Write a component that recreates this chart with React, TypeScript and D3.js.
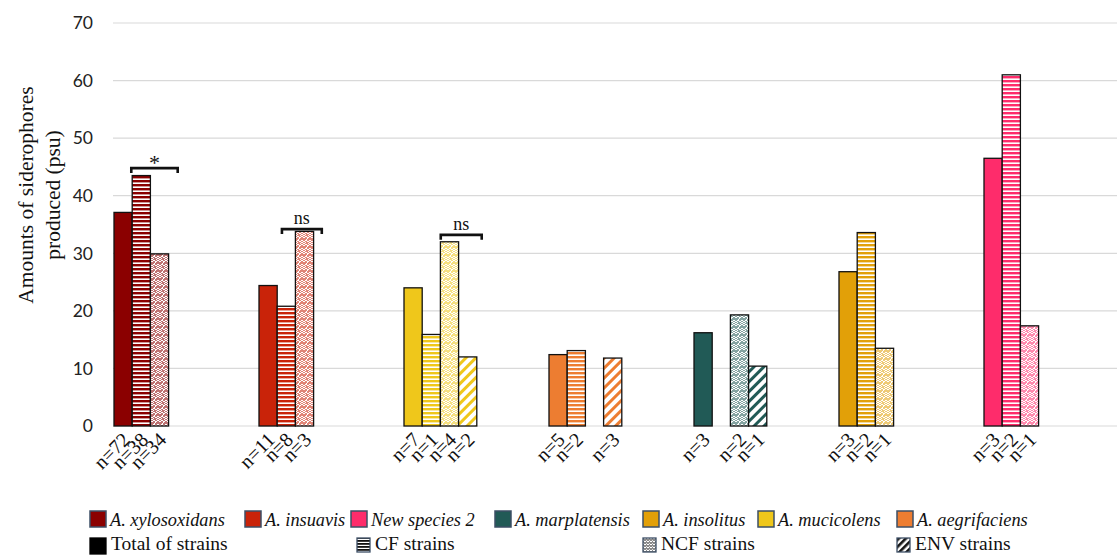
import React from "react";
import * as d3 from "d3";

const species = [
  "A. xylosoxidans",
  "A. insuavis",
  "A. mucicolens",
  "A. aegrifaciens",
  "A. marplatensis",
  "A. insolitus",
  "New species 2",
];
const speciesColors = ["#8b0000", "#c92309", "#efc71b", "#ed7d31", "#215a56", "#e2a008", "#fe2c6b"];
const series = ["Total of strains", "CF strains", "NCF strains", "ENV strains"];

// values per species, in series order (null = no bar)
const totalValues = [37.1, 24.4, 24.0, 12.4, 16.2, 26.8, 46.5];
const cfValues: (number | null)[] = [43.5, 20.8, 15.9, 13.1, null, 33.6, 61.0];
const ncfValues: (number | null)[] = [29.9, 33.8, 32.0, null, 19.3, 13.5, 17.4];
const envValues: (number | null)[] = [null, null, 12.0, 11.8, 10.4, null, null];

const totalN = ["n=72", "n=11", "n=7", "n=5", "n=3", "n=3", "n=3"];
const cfN = ["n=38", "n=8", "n=1", "n=2", "", "n=2", "n=2"];
const ncfN = ["n=34", "n=3", "n=4", "", "n=2", "n=1", "n=1"];
const envN = ["", "", "n=2", "n=3", "n=1", "", ""];

const yTicks = [0, 10, 20, 30, 40, 50, 60, 70];

// significance brackets: species index, from series slot, to series slot (fractional), level, label
const brackets = [
  { g: 0, from: 0.95, to: 3.5, y: 44.8, label: "*" },
  { g: 1, from: 1.26, to: 3.45, y: 34.2, label: "ns" },
  { g: 2, from: 2.02, to: 4.27, y: 33.2, label: "ns" },
];

const legendSpecies = [
  "A. xylosoxidans",
  "A. insuavis",
  "New species 2",
  "A. marplatensis",
  "A. insolitus",
  "A. mucicolens",
  "A. aegrifaciens",
];

const serif = "'Liberation Serif', 'Times New Roman', serif";

export default function App() {
  const W = 1117;
  const H = 555;
  const x0 = d3.scaleBand<string>().domain(species).range([113, 1128]).padding(0);
  const x1 = d3.scaleBand<string>().domain(series).range([1, 1 + 4 * 18.2]).padding(0);
  const y = d3.scaleLinear().domain([0, 70]).range([426, 23]);

  const allValues = [totalValues, cfValues, ncfValues, envValues];
  const allN = [totalN, cfN, ncfN, envN];

  const tint = (c: string, t: number) => d3.interpolateRgb(c, "#ffffff")(t);

  const fillFor = (si: number, gi: number) => {
    if (si === 0) return speciesColors[gi];
    return `url(#p-${si}-${gi})`;
  };

  const slotX = (gi: number, s: number) => (x0(species[gi]) as number) + 1 + s * x1.bandwidth();

  const legendRow1X = [90, 245, 351, 495, 643, 758, 897];
  const legendRow2X = [90, 357, 643, 897];

  return (
    <svg width={W} height={H} style={{ display: "block", position: "absolute", left: 0, top: 0 }}>
      <defs>
        {species.map((sp, gi) => {
          const c = speciesColors[gi];
          return (
            <React.Fragment key={sp}>
              <pattern id={`p-1-${gi}`} width={8} height={4} patternUnits="userSpaceOnUse">
                <rect width={8} height={4} fill="#ffffff" />
                <rect width={8} height={2.4} fill={c} />
              </pattern>
              <pattern id={`p-2-${gi}`} width={8} height={8} patternUnits="userSpaceOnUse">
                <rect width={8} height={8} fill={tint(c, 0.45)} />
                <path d="M0,2 L2,0 L4,2 L6,0 L8,2 M0,6 L2,4 L4,6 L6,4 L8,6 M2,8 L4,6 M0,4 L2,2 M4,4 L6,2 L8,4" stroke="#ffffff" strokeWidth={1} fill="none" />
              </pattern>
              <pattern id={`p-3-${gi}`} width={7} height={7} patternUnits="userSpaceOnUse" patternTransform="rotate(45)">
                <rect width={7} height={7} fill="#ffffff" />
                <rect width={3} height={7} fill={c} />
              </pattern>
            </React.Fragment>
          );
        })}
        <pattern id="lg-cf" width={8} height={3} patternUnits="userSpaceOnUse">
          <rect width={8} height={3} fill="#ffffff" />
          <rect width={8} height={1.8} fill="#111111" />
        </pattern>
        <pattern id="lg-ncf" width={6} height={6} patternUnits="userSpaceOnUse">
          <rect width={6} height={6} fill="#8a8a8a" />
          <path d="M0,2 L1.5,0.5 L3,2 L4.5,0.5 L6,2 M0,5 L1.5,3.5 L3,5 L4.5,3.5 L6,5" stroke="#ffffff" strokeWidth={1} fill="none" />
        </pattern>
        <pattern id="lg-env" width={5} height={5} patternUnits="userSpaceOnUse" patternTransform="rotate(45)">
          <rect width={5} height={5} fill="#ffffff" />
          <rect width={2.6} height={5} fill="#111111" />
        </pattern>
      </defs>

      {/* gridlines */}
      {yTicks.map((t) => (
        <line key={t} x1={113} x2={W} y1={y(t)} y2={y(t)} stroke="#d9d9d9" strokeWidth={1.2} />
      ))}

      {/* y tick labels */}
      {yTicks.map((t) => (
        <text key={t} x={93} y={y(t)} dy="0.36em" textAnchor="end" fontFamily="Lato, 'Open Sans', sans-serif" fontSize={17.5} fill="#222">
          {t}
        </text>
      ))}

      {/* y axis title */}
      <g transform="translate(33,195) rotate(-90)">
        <text x={0} y={0} textAnchor="middle" fontFamily={serif} fontSize={21.5} fill="#111">
          Amounts of siderophores
        </text>
        <text x={0} y={27} textAnchor="middle" fontFamily={serif} fontSize={21.5} fill="#111">
          produced (psu)
        </text>
      </g>

      {/* bars */}
      {allValues.map((vals, si) =>
        vals.map((v, gi) =>
          v == null ? null : (
            <rect
              key={`${si}-${gi}`}
              x={(x0(species[gi]) as number) + (x1(series[si]) as number)}
              y={y(v)}
              width={x1.bandwidth()}
              height={y(0) - y(v)}
              fill={fillFor(si, gi)}
              stroke="#111"
              strokeWidth={1.3}
            />
          )
        )
      )}

      {/* n labels */}
      {allN.map((labels, si) =>
        labels.map((lab, gi) => {
          if (!lab) return null;
          const cx = (x0(species[gi]) as number) + (x1(series[si]) as number) + x1.bandwidth() / 2;
          return (
            <text
              key={`n-${si}-${gi}`}
              transform={`translate(${cx + 8},${441}) rotate(-45)`}
              textAnchor="end"
              fontFamily={serif}
              fontSize={20}
              fill="#111"
            >
              {lab}
            </text>
          );
        })
      )}

      {/* significance brackets */}
      {brackets.map((b, i) => {
        const xa = slotX(b.g, b.from);
        const xb = slotX(b.g, b.to);
        const yy = y(b.y);
        return (
          <g key={i}>
            <path d={`M${xa},${yy + 5} L${xa},${yy} L${xb},${yy} L${xb},${yy + 5}`} fill="none" stroke="#111" strokeWidth={2.6} />
            <text x={(xa + xb) / 2} y={b.label === "*" ? yy + 2 : yy - 5} textAnchor="middle" fontFamily={serif} fontSize={b.label === "*" ? 22 : 18} fill="#111">
              {b.label}
            </text>
          </g>
        );
      })}

      {/* legend row 1 */}
      {legendSpecies.map((name, i) => {
        const gi = species.indexOf(name);
        const lx = legendRow1X[i];
        return (
          <g key={name}>
            <rect x={lx} y={511} width={16} height={16} fill={speciesColors[gi]} stroke="#3d4f66" strokeWidth={1.5} />
            <text x={lx + 20} y={526} fontFamily={serif} fontStyle="italic" fontSize={18.3} fill="#111">
              {name}
            </text>
          </g>
        );
      })}

      {/* legend row 2 */}
      {series.map((name, i) => {
        const lx = legendRow2X[i];
        const fill = i === 0 ? "#000" : i === 1 ? "url(#lg-cf)" : i === 2 ? "url(#lg-ncf)" : "url(#lg-env)";
        return (
          <g key={name}>
            <rect x={lx} y={538} width={i === 0 ? 16 : 13} height={i === 0 ? 16 : 14} fill={fill} stroke={i === 0 ? "#000" : "#3d4f66"} strokeWidth={1.3} />
            <text x={lx + (i === 0 ? 21 : 18)} y={550} fontFamily={serif} fontSize={19.5} fill="#111">
              {name}
            </text>
          </g>
        );
      })}
    </svg>
  );
}
